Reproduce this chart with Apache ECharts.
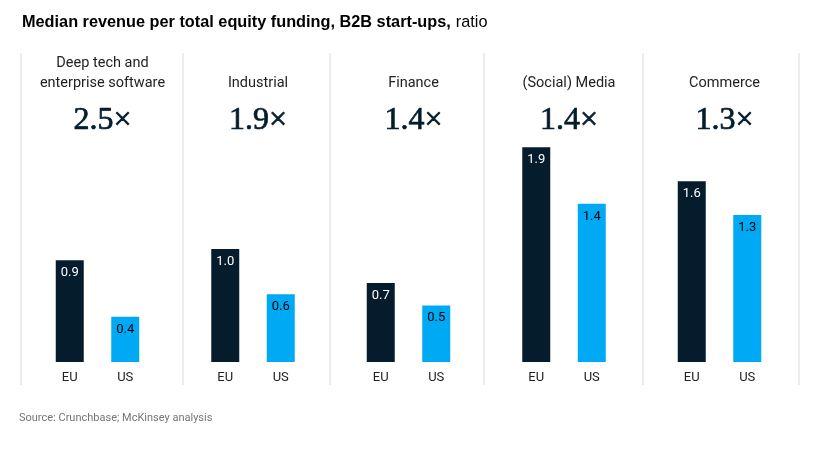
<!DOCTYPE html>
<html>
<head>
<meta charset="utf-8">
<script src="https://cdn.jsdelivr.net/npm/echarts@6/dist/echarts.min.js"></script>
<style>
html, body { margin: 0; padding: 0; background: #fff; }
#chart { width: 814px; height: 449px; }
</style>
</head>
<body>
<div id="chart"></div>
<script>
// data
var sectors = ['Deep tech and\nenterprise software', 'Industrial', 'Finance', '(Social) Media', 'Commerce'];
var ratios = ['2.5', '1.9', '1.4', '1.4', '1.3'];
var regions = ['EU', 'US'];
var euValues = [0.9, 1.0, 0.7, 1.9, 1.6];
var usValues = [0.4, 0.6, 0.5, 1.4, 1.3];

var EU_COLOR = '#051c2c';
var US_COLOR = '#00a9f4';
var FONT = 'Roboto, "Liberation Sans", sans-serif';

var chart = echarts.init(document.getElementById('chart'));

var grids = [], xAxes = [], yAxes = [], series = [], titles = [];
var firstLeft = 42, step = 155.5, gridW = 111;

titles.push({
	text: '{b|Median revenue per total equity funding, B2B start-ups,} {r|ratio}',
	left: 17,
	top: 9,
	textStyle: {
		rich: {
			b: { fontFamily: '"Liberation Sans", Arial, sans-serif', fontSize: 16.3, fontWeight: 'bold', color: '#000' },
			r: { fontFamily: '"Liberation Sans", Arial, sans-serif', fontSize: 16.3, fontWeight: 'normal', color: '#000' }
		}
	}
});

for (var i = 0; i < sectors.length; i++) {
	var left = firstLeft + step * i;
	var center = left + gridW / 2;
	grids.push({ left: left, width: gridW, top: 136, bottom: 87 });
	xAxes.push({
		type: 'category',
		gridIndex: i,
		data: regions,
		axisLine: { show: false },
		axisTick: { show: false },
		axisLabel: { color: '#222', fontFamily: FONT, fontSize: 13, margin: 9 }
	});
	yAxes.push({
		type: 'value',
		gridIndex: i,
		min: 0,
		max: 2,
		show: false
	});
	series.push({
		type: 'bar',
		xAxisIndex: i,
		yAxisIndex: i,
		barWidth: 28,
		data: [
			{ value: euValues[i], itemStyle: { color: EU_COLOR }, label: { color: '#fff' } },
			{ value: usValues[i], itemStyle: { color: US_COLOR }, label: { color: '#000' } }
		],
		label: {
			show: true,
			position: 'insideTop',
			distance: 6,
			fontFamily: FONT,
			fontSize: 13,
			formatter: function (p) { return p.value.toFixed(1); }
		}
	});
	var isTwoLine = sectors[i].indexOf('\n') >= 0;
	titles.push({
		text: sectors[i],
		left: center,
		top: isTwoLine ? 48 : 68,
		textAlign: 'center',
		textStyle: { fontFamily: FONT, fontSize: 14.5, fontWeight: 'normal', color: '#222', lineHeight: 20 }
	});
	titles.push({
		text: ratios[i] + '×',
		left: center,
		top: 100,
		textAlign: 'center',
		textStyle: {
			fontFamily: '"Liberation Serif", "DejaVu Serif", serif',
			fontSize: 32,
			fontWeight: 'normal',
			color: '#051c2c',
			textBorderColor: '#051c2c',
			textBorderWidth: 0.7
		}
	});
}

// panel separators
var sepX = [21, 183, 330, 484, 643, 799];
var graphics = [];
for (var j = 0; j < sepX.length; j++) {
	graphics.push({
		type: 'line',
		shape: { x1: sepX[j], y1: 53, x2: sepX[j], y2: 385 },
		style: { stroke: '#d9d9d9', lineWidth: 1 }
	});
}
graphics.push({
	type: 'text',
	left: 19,
	top: 413,
	style: { text: 'Source: Crunchbase; McKinsey analysis', fill: '#757575', font: '11px ' + FONT }
});

chart.setOption({
	backgroundColor: '#fff',
	animation: false,
	title: titles,
	grid: grids,
	xAxis: xAxes,
	yAxis: yAxes,
	series: series,
	graphic: graphics
});
</script>
</body>
</html>
